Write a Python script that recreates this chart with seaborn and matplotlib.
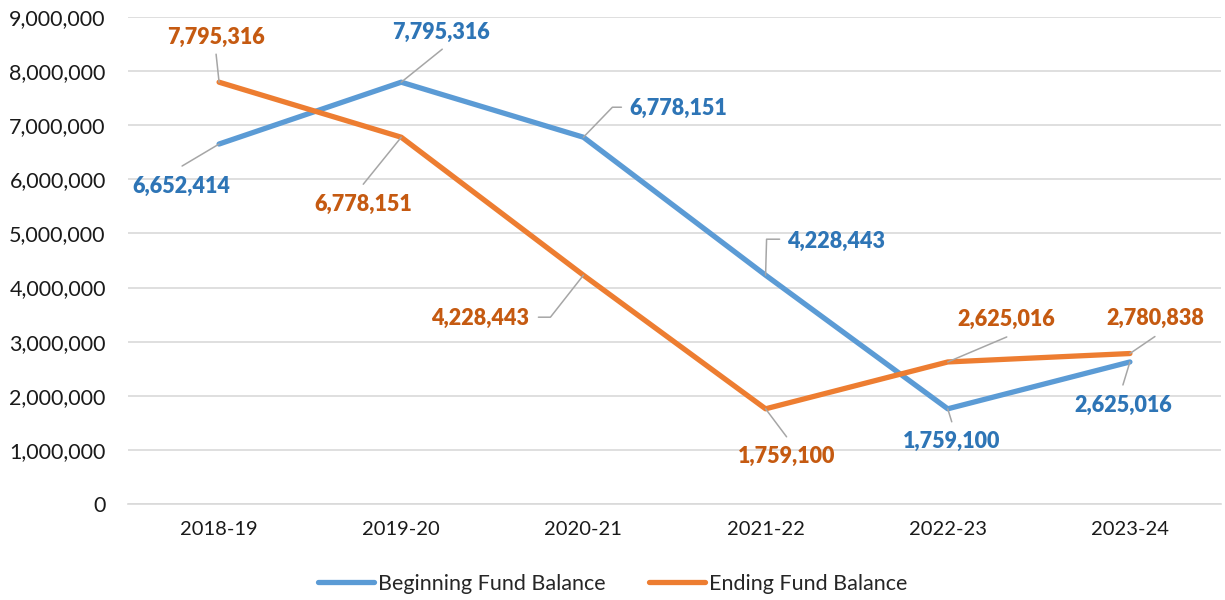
import math

import matplotlib
matplotlib.use("Agg")
import matplotlib.pyplot as plt
import pandas as pd
import seaborn as sns
from matplotlib.ticker import FuncFormatter

# Data
years = ["2018-19", "2019-20", "2020-21", "2021-22", "2022-23", "2023-24"]
beginning = [6652414, 7795316, 6778151, 4228443, 1759100, 2625016]
ending = [7795316, 6778151, 4228443, 1759100, 2625016, 2780838]
series_names = ["Beginning Fund Balance", "Ending Fund Balance"]

# Label placement (pixel offsets from point): label centre, leader end, optional elbow
begin_label_pos = [(-38, -42), (40, 50), (95, 29), (70, 34), (4, -33), (-7, -43)]
begin_leader_end = [(-37, -22), (41, 33), (38, 30), (14, 36), (4, -13), (-7, -23)]
begin_elbow = [None, None, (29, 30), (1, 36), None, None]
end_label_pos = [(-3, 45), (-38, -67), (-103, -43), (21, -48), (59, 43), (25, 35)]
end_leader_end = [(-3, 28), (-38, -47), (-45, -42), (21, -28), (59, 25), (25, 17)]
end_elbow = [None, None, (-33, -42), None, None, None]

line_colors = ["#5B9BD5", "#ED7D31"]
label_colors = ["#2E75B6", "#C55A11"]

df = pd.DataFrame(
    {
        "Year": years * 2,
        "Value": beginning + ending,
        "Series": [series_names[0]] * len(years) + [series_names[1]] * len(years),
    }
)

sns.set_style("white")
plt.rcParams["font.family"] = ["Lato", "DejaVu Sans"]

fig = plt.figure(figsize=(12.25, 6), dpi=100)
ax = fig.add_axes([128 / 1225, 1 - 504 / 600, 1093 / 1225, 487 / 600])

sns.lineplot(
    data=df,
    x="Year",
    y="Value",
    hue="Series",
    palette=line_colors,
    linewidth=3.8,
    sort=False,
    ax=ax,
)

ax.set_ylim(0, 9000000)
ax.set_xlim(-0.5, len(years) - 0.5)
ax.set_yticks(range(0, 9000001, 1000000))
ax.yaxis.set_major_formatter(FuncFormatter(lambda v, p: f"{int(v):,}"))
ax.grid(axis="y", color="#D9D9D9", linewidth=1.2)
ax.set_axisbelow(True)
for s in ["top", "right", "left"]:
    ax.spines[s].set_visible(False)
ax.spines["bottom"].set_color("#D9D9D9")
ax.spines["bottom"].set_linewidth(1.2)
ax.tick_params(axis="y", length=0, pad=16, labelsize=15.5, labelcolor="#1a1a1a")
ax.tick_params(axis="x", length=0, pad=12, labelsize=14.5, labelcolor="#1a1a1a")
ax.set_xlabel("")
ax.set_ylabel("")


def add_labels(values, label_pos, leader_end, elbow, color):
    for i, v in enumerate(values):
        ax.annotate(
            f"{v:,}",
            xy=(i, v),
            xytext=label_pos[i],
            textcoords="offset pixels",
            ha="center",
            va="center",
            fontsize=15.5,
            fontweight="heavy",
            color=color,
        )
        if elbow[i] is None:
            conn = "arc3"
        else:
            ex, ey = elbow[i]
            angle_b = math.degrees(math.atan2(ey, ex))
            conn = f"angle,angleA=0,angleB={angle_b},rad=0"
        ax.annotate(
            "",
            xy=(i, v),
            xytext=leader_end[i],
            textcoords="offset pixels",
            arrowprops=dict(
                arrowstyle="-",
                color="#A6A6A6",
                linewidth=1.1,
                shrinkA=0,
                shrinkB=0,
                connectionstyle=conn,
            ),
        )


add_labels(beginning, begin_label_pos, begin_leader_end, begin_elbow, label_colors[0])
add_labels(ending, end_label_pos, end_leader_end, end_elbow, label_colors[1])

handles, labels = ax.get_legend_handles_labels()
ax.legend(
    handles,
    labels,
    loc="center",
    bbox_to_anchor=(0.5, 1 - 584 / 600),
    bbox_transform=fig.transFigure,
    ncol=2,
    frameon=False,
    fontsize=15.5,
    handlelength=2.6,
    handletextpad=0.2,
    columnspacing=2.0,
)

fig.savefig("out.png", dpi=100)
